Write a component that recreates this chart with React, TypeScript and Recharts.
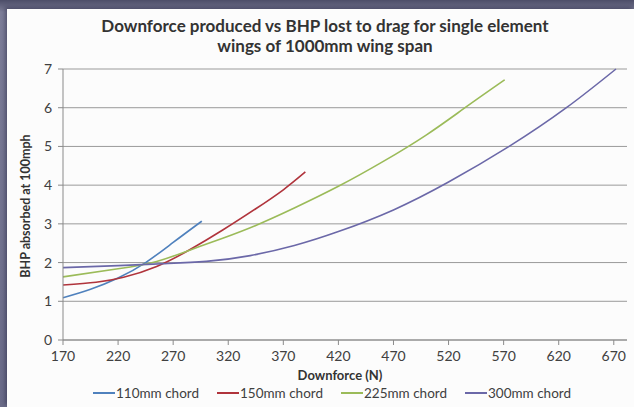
import { LineChart, Line, XAxis, YAxis, CartesianGrid } from 'recharts';

// x = downforce (N), y = BHP absorbed at 100mph
const downforce110 = [170, 195, 220, 245, 270, 296];
const bhp110 = [1.09, 1.31, 1.6, 2.0, 2.52, 3.07];

const downforce150 = [170, 200, 225, 255, 285, 315, 345, 370, 390];
const bhp150 = [1.42, 1.49, 1.62, 1.9, 2.33, 2.84, 3.39, 3.88, 4.34];

const downforce225 = [170, 220, 255, 285, 315, 345, 380, 420, 460, 500, 535, 571];
const bhp225 = [1.63, 1.84, 2.03, 2.32, 2.63, 2.96, 3.41, 3.97, 4.6, 5.3, 6.0, 6.72];

const downforce300 = [170, 220, 260, 300, 340, 380, 420, 470, 520, 575, 627, 672];
const bhp300 = [1.87, 1.92, 1.97, 2.03, 2.18, 2.44, 2.8, 3.36, 4.08, 5.0, 6.0, 7.0];

const xTicks = [170, 220, 270, 320, 370, 420, 470, 520, 570, 620, 670];
const yTicks = [0, 1, 2, 3, 4, 5, 6, 7];

const series = [
    { name: '110mm chord', x: downforce110, y: bhp110, color: '#4f81bd' },
    { name: '150mm chord', x: downforce150, y: bhp150, color: '#b0343c' },
    { name: '225mm chord', x: downforce225, y: bhp225, color: '#9bbb59' },
    { name: '300mm chord', x: downforce300, y: bhp300, color: '#6b68a8' },
];

const font = 'Lato, "Open Sans", sans-serif';

const App = () => {
    return (
        <div style={{ position: 'absolute', left: 0, top: 0, width: 634, height: 407, overflow: 'hidden',
            background: 'linear-gradient(to bottom, #4c4d68, #7d7e98 12px, #6a6b88)', fontFamily: font }}>
            <div style={{ position: 'absolute', left: 7, top: 9, right: 0, bottom: 0, background: '#fcfcfc',
                boxShadow: '-2px -2px 4px rgba(30,30,60,0.45)' }} />

            <div style={{ position: 'absolute', left: 0, top: 0 }}>
                <LineChart width={634} height={407} margin={{ top: 69, right: 7, bottom: 37, left: 23 }}>
                    <CartesianGrid vertical={false} stroke="#9a9a9a" />
                    <XAxis type="number" dataKey="x" domain={[170, 682]} ticks={xTicks} height={30}
                        allowDuplicatedCategory={false}
                        tick={{ fill: '#404040', fontSize: 14, fontFamily: font }}
                        stroke="#8a8a8a" tickSize={5} tickMargin={6} />
                    <YAxis type="number" domain={[0, 7]} ticks={yTicks} width={40}
                        tick={{ fill: '#404040', fontSize: 14, fontFamily: font }}
                        stroke="#8a8a8a" tickSize={5} tickMargin={6} />
                    {series.map((s) => (
                        <Line key={s.name} data={s.x.map((x, i) => ({ x, y: s.y[i] }))} dataKey="y"
                            type="natural" stroke={s.color} strokeWidth={1.6} dot={false}
                            isAnimationActive={false} />
                    ))}
                </LineChart>
            </div>

            <div style={{ position: 'absolute', left: 0, width: 650, top: 16, textAlign: 'center',
                fontWeight: 'bold', fontSize: 17, lineHeight: '20px', color: '#333' }}>
                Downforce produced vs BHP lost to drag for single element<br />wings of 1000mm wing span
            </div>

            <div style={{ position: 'absolute', left: 25, top: 206, width: 0, height: 0 }}>
                <div style={{ position: 'absolute', transform: 'translate(-50%, -50%) rotate(-90deg)',
                    whiteSpace: 'nowrap', fontWeight: 'bold', fontSize: 12.5, color: '#333' }}>
                    BHP absorbed at 100mph
                </div>
            </div>

            <div style={{ position: 'absolute', left: 0, width: 680, top: 367, textAlign: 'center',
                fontWeight: 'bold', fontSize: 13, color: '#333' }}>
                Downforce (N)
            </div>

            <div style={{ position: 'absolute', left: 0, width: 664, top: 385, display: 'flex',
                justifyContent: 'center', gap: 18, fontSize: 13.5, color: '#404040' }}>
                {series.map((s) => (
                    <div key={s.name} style={{ display: 'flex', alignItems: 'center' }}>
                        <span style={{ display: 'inline-block', width: 22, height: 2, background: s.color, marginRight: 1 }} />
                        <span>{s.name}</span>
                    </div>
                ))}
            </div>
        </div>
    );
};

export default App;
